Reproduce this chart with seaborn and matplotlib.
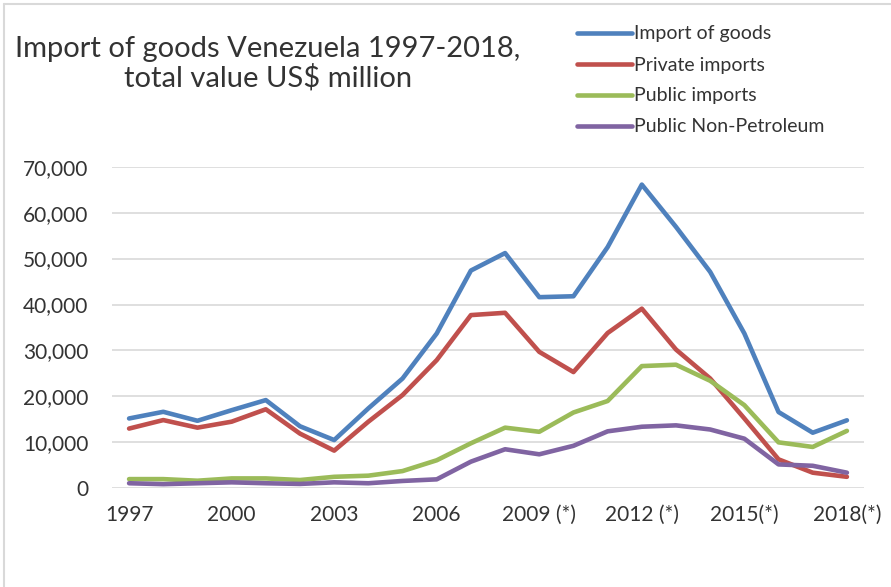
import numpy as np
import pandas as pd
import matplotlib
matplotlib.use("Agg")
import matplotlib.pyplot as plt
import seaborn as sns
from matplotlib.lines import Line2D

years = list(range(1997, 2019))
import_goods = [15200, 16650, 14700, 17000, 19200, 13500, 10500, 17400, 23900, 33700, 47400,
                51200, 41600, 41800, 52500, 66100, 56900, 47100, 33700, 16600, 12100, 14800]
private_imports = [13000, 14850, 13200, 14500, 17200, 11900, 8200, 14500, 20300, 27900, 37700,
                   38200, 29700, 25300, 33800, 39100, 30200, 23900, 15200, 6300, 3400, 2500]
public_imports = [2000, 2000, 1650, 2150, 2150, 1800, 2500, 2750, 3750, 6100, 9800,
                  13200, 12300, 16500, 19000, 26600, 26900, 23400, 18100, 10000, 9000, 12500]
public_non_petroleum = [1100, 900, 1100, 1300, 1100, 950, 1300, 1100, 1600, 1950, 5800,
                        8500, 7400, 9250, 12400, 13400, 13700, 12800, 10800, 5200, 4900, 3400]
series_names = ["Import of goods", "Private imports", "Public imports", "Public Non-Petroleum"]
tick_years = [1997, 2000, 2003, 2006, 2009, 2012, 2015, 2018]
tick_labels = ["1997", "2000", "2003", "2006", "2009 (*)", "2012 (*)", "2015(*)", "2018(*)"]
colors = ["#4F81BD", "#C0504D", "#9BBB59", "#8064A2"]

df = pd.DataFrame({
    "year": years * 4,
    "value": import_goods + private_imports + public_imports + public_non_petroleum,
    "series": sum([[n] * len(years) for n in series_names], []),
})

sns.set_theme(style="white")
plt.rcParams['font.family'] = ['Lato', 'DejaVu Sans']

W, H = 891, 587
fig = plt.figure(figsize=(W / 100, H / 100), dpi=100)
ax = fig.add_axes([112 / W, 1 - 488.3 / H, (864 - 112) / W, (488.3 - 166.7) / H])

sns.lineplot(data=df, x="year", y="value", hue="series", hue_order=series_names,
             palette=colors, linewidth=3.3, ax=ax, legend=False)

ax.set_xlim(1996.5, 2018.5)
ax.set_ylim(0, 70000)
ax.set_yticks(range(0, 70001, 10000))
ax.set_yticklabels([f"{v:,}" for v in range(0, 70001, 10000)], fontsize=15, color="#333333")
ax.set_xticks(tick_years)
ax.set_xticklabels(tick_labels, fontsize=15, color="#333333")
ax.tick_params(axis="both", length=0)
ax.tick_params(axis="x", pad=12)
ax.tick_params(axis="y", pad=17)
ax.grid(axis="y", color="#D9D9D9", linewidth=1.2)
ax.set_axisbelow(True)
for s in ax.spines.values():
    s.set_visible(False)
ax.set_xlabel("")
ax.set_ylabel("")

fig.text(268 / W, 1 - 64 / H, "Import of goods Venezuela 1997-2018,\ntotal value US$ million",
         ha="center", va="center", fontsize=21, color="#333333", linespacing=1.1)

handles = [Line2D([0], [0], color=c, lw=3.3) for c in colors]
fig.legend(handles, series_names, loc="upper left", bbox_to_anchor=(559 / W, 1 - 8 / H),
           frameon=False, fontsize=14, handlelength=2.85, handletextpad=0.12,
           labelspacing=0.72, labelcolor="#333333")

fig.add_artist(Line2D([4 / W, 4 / W], [0, 1 - 4 / H], color="#D9D9D9", lw=1.5, transform=fig.transFigure))
fig.add_artist(Line2D([4 / W, 1], [1 - 4 / H, 1 - 4 / H], color="#D9D9D9", lw=1.5, transform=fig.transFigure))

fig.savefig("out.png", dpi=100)
